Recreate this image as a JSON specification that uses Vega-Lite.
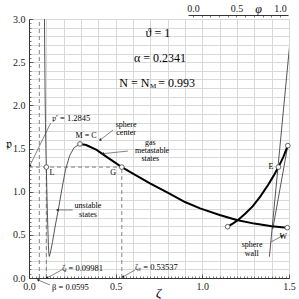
{
  "$schema": "https://vega.github.io/schema/vega-lite/v6.json",
  "width": 260,
  "height": 259,
  "autosize": "none",
  "padding": {"left": 29, "top": 19, "right": 10, "bottom": 21},
  "config": {
    "view": {"stroke": null},
    "font": "Liberation Serif",
    "axis": {
      "labelFont": "Liberation Serif",
      "labelFontSize": 10,
      "labelColor": "#222",
      "labelOverlap": false,
      "titleFont": "Liberation Serif",
      "titleFontWeight": "normal",
      "titleColor": "#000",
      "domainColor": "#333",
      "tickColor": "#444",
      "gridColor": "#d9d9d9",
      "gridWidth": 1
    }
  },
  "datasets": {
    "curves": [
      {"s": "iso", "i": 1, "zeta": 0.0888, "p": 3.1},
      {"s": "iso", "i": 2, "zeta": 0.0905, "p": 2.7},
      {"s": "iso", "i": 3, "zeta": 0.0925, "p": 2.2},
      {"s": "iso", "i": 4, "zeta": 0.095, "p": 1.8},
      {"s": "iso", "i": 5, "zeta": 0.0975, "p": 1.5},
      {"s": "iso", "i": 6, "zeta": 0.0998, "p": 1.2845},
      {"s": "iso", "i": 7, "zeta": 0.1025, "p": 1.05},
      {"s": "iso", "i": 8, "zeta": 0.1055, "p": 0.8},
      {"s": "iso", "i": 9, "zeta": 0.109, "p": 0.56},
      {"s": "iso", "i": 10, "zeta": 0.112, "p": 0.38},
      {"s": "iso", "i": 11, "zeta": 0.1145, "p": 0.28},
      {"s": "iso", "i": 12, "zeta": 0.117, "p": 0.25},
      {"s": "iso", "i": 13, "zeta": 0.1205, "p": 0.27},
      {"s": "iso", "i": 14, "zeta": 0.126, "p": 0.32},
      {"s": "iso", "i": 15, "zeta": 0.135, "p": 0.41},
      {"s": "iso", "i": 16, "zeta": 0.150, "p": 0.59},
      {"s": "iso", "i": 17, "zeta": 0.169, "p": 0.79},
      {"s": "iso", "i": 18, "zeta": 0.189, "p": 1.02},
      {"s": "iso", "i": 19, "zeta": 0.21, "p": 1.25},
      {"s": "iso", "i": 20, "zeta": 0.235, "p": 1.42},
      {"s": "iso", "i": 21, "zeta": 0.26, "p": 1.51},
      {"s": "iso", "i": 22, "zeta": 0.294, "p": 1.553},
      {"s": "gas", "i": 1, "zeta": 0.294, "p": 1.553},
      {"s": "gas", "i": 2, "zeta": 0.33, "p": 1.54},
      {"s": "gas", "i": 3, "zeta": 0.39, "p": 1.483},
      {"s": "gas", "i": 4, "zeta": 0.45, "p": 1.40},
      {"s": "gas", "i": 5, "zeta": 0.53537, "p": 1.2845},
      {"s": "gas", "i": 6, "zeta": 0.60, "p": 1.21},
      {"s": "gas", "i": 7, "zeta": 0.698, "p": 1.097},
      {"s": "gas", "i": 8, "zeta": 0.80, "p": 0.99},
      {"s": "gas", "i": 9, "zeta": 0.90, "p": 0.88},
      {"s": "gas", "i": 10, "zeta": 0.987, "p": 0.807},
      {"s": "gas", "i": 11, "zeta": 1.10, "p": 0.73},
      {"s": "gas", "i": 12, "zeta": 1.198, "p": 0.672},
      {"s": "gas", "i": 13, "zeta": 1.30, "p": 0.63},
      {"s": "gas", "i": 14, "zeta": 1.40, "p": 0.60},
      {"s": "gas", "i": 15, "zeta": 1.49, "p": 0.583},
      {"s": "wall", "i": 1, "zeta": 1.146, "p": 0.594},
      {"s": "wall", "i": 2, "zeta": 1.18, "p": 0.635},
      {"s": "wall", "i": 3, "zeta": 1.208, "p": 0.675},
      {"s": "wall", "i": 4, "zeta": 1.25, "p": 0.75},
      {"s": "wall", "i": 5, "zeta": 1.29, "p": 0.83},
      {"s": "wall", "i": 6, "zeta": 1.333, "p": 0.94},
      {"s": "wall", "i": 7, "zeta": 1.38, "p": 1.08},
      {"s": "wall", "i": 8, "zeta": 1.41, "p": 1.18},
      {"s": "wall", "i": 9, "zeta": 1.439, "p": 1.2845},
      {"s": "wall", "i": 10, "zeta": 1.467, "p": 1.40},
      {"s": "wall", "i": 11, "zeta": 1.493, "p": 1.533},
      {"s": "lineA", "i": 1, "zeta": 1.51, "p": 2.83},
      {"s": "lineA", "i": 2, "zeta": 1.387, "p": 0.247},
      {"s": "lineB", "i": 1, "zeta": 1.493, "p": 1.533},
      {"s": "lineB", "i": 2, "zeta": 1.406, "p": 0.565}
    ],
    "dots": [
      {"zeta": 0.294, "p": 1.553},
      {"zeta": 0.0998, "p": 1.2845},
      {"zeta": 0.53537, "p": 1.2845},
      {"zeta": 1.439, "p": 1.2845},
      {"zeta": 1.49, "p": 0.583},
      {"zeta": 1.146, "p": 0.594},
      {"zeta": 1.493, "p": 1.533}
    ],
    "dashed": [
      {"zeta": 0.0595, "p": 0, "zeta2": 0.0595, "p2": 3.0},
      {"zeta": 0.09981, "p": 0, "zeta2": 0.09981, "p2": 1.2845},
      {"zeta": 0.0, "p": 1.2845, "zeta2": 0.53537, "p2": 1.2845},
      {"zeta": 0.53537, "p": 0, "zeta2": 0.53537, "p2": 1.2845}
    ],
    "leaders": [
      {"zeta": 0.125, "p": 1.795, "zeta2": 0.004, "p2": 1.297},
      {"zeta": 0.485, "p": 1.714, "zeta2": 0.41, "p2": 1.598},
      {"zeta": 0.57, "p": 1.47, "zeta2": 0.425, "p2": 1.44},
      {"zeta": 0.252, "p": 0.788, "zeta2": 0.163, "p2": 0.788},
      {"zeta": 0.189, "p": 0.093, "zeta2": 0.102, "p2": 0.0},
      {"zeta": 0.121, "p": -0.081, "zeta2": 0.052, "p2": -0.023},
      {"zeta": 0.612, "p": 0.093, "zeta2": 0.541, "p2": 0.012},
      {"zeta": 1.396, "p": 0.417, "zeta2": 1.46, "p2": 0.487}
    ],
    "bigC": [
      {"zeta": 0.744, "p": 2.838, "t": "ϑ = 1"},
      {"zeta": 0.756, "p": 2.548, "t": "α = 0.2341"}
    ],
    "bigR": [
      {"zeta": 0.695, "p": 2.259, "t": "N = N"}
    ],
    "bigL": [
      {"zeta": 0.745, "p": 2.259, "t": "= 0.993"}
    ],
    "sub": [
      {"zeta": 0.716, "p": 2.225, "t": "M"}
    ],
    "smallC": [
      {"zeta": 0.329, "p": 1.645, "t": "M = C"},
      {"zeta": 0.56, "p": 1.775, "t": "sphere"},
      {"zeta": 0.56, "p": 1.68, "t": "center"},
      {"zeta": 0.70, "p": 1.564, "t": "gas"},
      {"zeta": 0.71, "p": 1.471, "t": "metastable"},
      {"zeta": 0.70, "p": 1.378, "t": "states"},
      {"zeta": 0.133, "p": 1.216, "t": "L"},
      {"zeta": 0.485, "p": 1.216, "t": "G"},
      {"zeta": 0.34, "p": 0.83, "t": "unstable"},
      {"zeta": 0.34, "p": 0.73, "t": "states"},
      {"zeta": 1.396, "p": 1.286, "t": "E"},
      {"zeta": 1.467, "p": 0.475, "t": "W"},
      {"zeta": 1.287, "p": 0.38, "t": "sphere"},
      {"zeta": 1.285, "p": 0.28, "t": "wall"}
    ],
    "smallL": [
      {"zeta": 0.133, "p": 1.853, "t": "𝔭′ = 1.2845"},
      {"zeta": 0.19, "p": 0.116, "t": "ζₗ = 0.09981"},
      {"zeta": 0.133, "p": -0.104, "t": "β = 0.0595"},
      {"zeta": 0.612, "p": 0.127, "t": "ζᵥ = 0.53537"}
    ],
    "phi": [
      {"phi": 0}, {"phi": 1}
    ]
  },
  "layer": [
    {
      "data": {"name": "dashed"},
      "mark": {"type": "rule", "strokeDash": [4, 3], "color": "#666", "strokeWidth": 0.8},
      "encoding": {
        "x": {
          "field": "zeta", "type": "quantitative",
          "scale": {"domain": [0, 1.5], "nice": false, "zero": false},
          "axis": {
            "orient": "bottom",
            "values": [0,0.02,0.04,0.06,0.08,0.1,0.12,0.14,0.16,0.18,0.2,0.22,0.24,0.26,0.28,0.3,0.32,0.34,0.36,0.38,0.4,0.42,0.44,0.46,0.48,0.5,0.52,0.54,0.56,0.58,0.6,0.62,0.64,0.66,0.68,0.7,0.72,0.74,0.76,0.78,0.8,0.82,0.84,0.86,0.88,0.9,0.92,0.94,0.96,0.98,1.0,1.02,1.04,1.06,1.08,1.1,1.12,1.14,1.16,1.18,1.2,1.22,1.24,1.26,1.28,1.3,1.32,1.34,1.36,1.38,1.4,1.42,1.44,1.46,1.48,1.5],
            "labels": false,
            "domain": false,
            "gridOpacity": {"condition": {"test": "abs(datum.value*10 - round(datum.value*10)) < 0.001", "value": 1}, "value": 0},
            "tickSize": -2,
            "tickWidth": 0.7,
            "title": null
          }
        },
        "y": {
          "field": "p", "type": "quantitative",
          "scale": {"domain": [0, 3.0], "nice": false, "zero": false},
          "axis": {
            "orient": "left",
            "values": [0,0.05,0.1,0.15,0.2,0.25,0.3,0.35,0.4,0.45,0.5,0.55,0.6,0.65,0.7,0.75,0.8,0.85,0.9,0.95,1.0,1.05,1.1,1.15,1.2,1.25,1.3,1.35,1.4,1.45,1.5,1.55,1.6,1.65,1.7,1.75,1.8,1.85,1.9,1.95,2.0,2.05,2.1,2.15,2.2,2.25,2.3,2.35,2.4,2.45,2.5,2.55,2.6,2.65,2.7,2.75,2.8,2.85,2.9,2.95,3.0],
            "labels": false,
            "domain": false,
            "gridOpacity": {"condition": {"test": "abs(datum.value*10 - round(datum.value*10)) < 0.001", "value": 1}, "value": 0},
            "tickSize": -2,
            "tickWidth": 0.7,
            "title": null
          }
        },
        "x2": {"field": "zeta2"},
        "y2": {"field": "p2"}
      }
    },
    {
      "layer": [
        {
          "data": {"name": "curves"},
          "transform": [{"filter": "datum.s === 'iso' || datum.s === 'lineA' || datum.s === 'lineB'"}],
          "mark": {"type": "line", "color": "#444", "strokeWidth": 0.9, "clip": true},
          "encoding": {
            "x": {
              "field": "zeta", "type": "quantitative",
              "scale": {"domain": [0, 1.5], "nice": false, "zero": false},
              "axis": {
                "orient": "bottom",
                "values": [0, 0.5, 1.0, 1.5],
                "format": ".1f",
                "grid": false,
                "tickSize": -4,
                "tickWidth": 0.8,
                "labelPadding": 7,
                "labelFlush": false,
                "title": "ζ",
                "titleFontSize": 13,
                "titleFontStyle": "italic",
                "titleBaseline": "middle",
                "titleX": 129,
                "titleY": 14
              }
            },
            "y": {
              "field": "p", "type": "quantitative",
              "scale": {"domain": [0, 3.0], "nice": false, "zero": false},
              "axis": {
                "orient": "left",
                "values": [0, 0.5, 1.0, 1.5, 2.0, 2.5, 3.0],
                "format": ".1f",
                "grid": false,
                "tickSize": -4,
                "tickWidth": 0.8,
                "labelPadding": 8,
                "labelFlush": false,
                "title": "𝔭",
                "titleAngle": 0,
                "titleFontSize": 13,
                "titleBaseline": "middle",
                "titleX": -21,
                "titleY": 124
              }
            },
            "detail": {"field": "s"},
            "order": {"field": "i"}
          }
        },
        {
          "data": {"name": "curves"},
          "transform": [{"filter": "datum.s === 'gas' || datum.s === 'wall'"}],
          "mark": {"type": "line", "color": "#000", "strokeWidth": 2, "clip": true},
          "encoding": {
            "x": {"field": "zeta", "type": "quantitative"},
            "y": {"field": "p", "type": "quantitative"},
            "detail": {"field": "s"},
            "order": {"field": "i"}
          }
        },
        {
          "data": {"name": "leaders"},
          "mark": {"type": "rule", "color": "#333", "strokeWidth": 0.6},
          "encoding": {
            "x": {"field": "zeta", "type": "quantitative"},
            "y": {"field": "p", "type": "quantitative"},
            "x2": {"field": "zeta2"},
            "y2": {"field": "p2"}
          }
        },
        {
          "data": {"name": "leaders"},
          "transform": [
            {"calculate": "atan2((datum.zeta2 - datum.zeta) * 173.33, (datum.p2 - datum.p) * 86.33) * 180 / PI", "as": "ang"}
          ],
          "mark": {"type": "point", "shape": "triangle-up", "size": 9, "filled": true, "color": "#222", "opacity": 1},
          "encoding": {
            "x": {"field": "zeta2", "type": "quantitative"},
            "y": {"field": "p2", "type": "quantitative"},
            "angle": {"field": "ang", "type": "quantitative", "scale": null}
          }
        },
        {
          "data": {"name": "dots"},
          "mark": {"type": "point", "shape": "circle", "size": 22, "filled": true, "fill": "white", "stroke": "#555", "strokeWidth": 0.9, "opacity": 1},
          "encoding": {
            "x": {"field": "zeta", "type": "quantitative"},
            "y": {"field": "p", "type": "quantitative"}
          }
        },
        {
          "data": {"name": "bigC"},
          "mark": {"type": "text", "fontSize": 12, "font": "Liberation Serif", "baseline": "middle", "align": "center", "color": "#000"},
          "encoding": {
            "x": {"field": "zeta", "type": "quantitative"},
            "y": {"field": "p", "type": "quantitative"},
            "text": {"field": "t"}
          }
        },
        {
          "data": {"name": "bigR"},
          "mark": {"type": "text", "fontSize": 12, "font": "Liberation Serif", "baseline": "middle", "align": "right", "color": "#000"},
          "encoding": {
            "x": {"field": "zeta", "type": "quantitative"},
            "y": {"field": "p", "type": "quantitative"},
            "text": {"field": "t"}
          }
        },
        {
          "data": {"name": "bigL"},
          "mark": {"type": "text", "fontSize": 12, "font": "Liberation Serif", "baseline": "middle", "align": "left", "color": "#000"},
          "encoding": {
            "x": {"field": "zeta", "type": "quantitative"},
            "y": {"field": "p", "type": "quantitative"},
            "text": {"field": "t"}
          }
        },
        {
          "data": {"name": "sub"},
          "mark": {"type": "text", "fontSize": 7, "font": "Liberation Serif", "baseline": "middle", "align": "center", "color": "#000"},
          "encoding": {
            "x": {"field": "zeta", "type": "quantitative"},
            "y": {"field": "p", "type": "quantitative"},
            "text": {"field": "t"}
          }
        },
        {
          "data": {"name": "smallC"},
          "mark": {"type": "text", "fontSize": 8, "font": "Liberation Serif", "baseline": "middle", "align": "center", "color": "#000"},
          "encoding": {
            "x": {"field": "zeta", "type": "quantitative"},
            "y": {"field": "p", "type": "quantitative"},
            "text": {"field": "t"}
          }
        },
        {
          "data": {"name": "smallL"},
          "mark": {"type": "text", "fontSize": 8.5, "font": "Liberation Serif", "baseline": "middle", "align": "left", "color": "#000"},
          "encoding": {
            "x": {"field": "zeta", "type": "quantitative"},
            "y": {"field": "p", "type": "quantitative"},
            "text": {"field": "t"}
          }
        }
      ]
    },
    {
      "data": {"name": "phi"},
      "mark": {"type": "point", "opacity": 0},
      "encoding": {
        "x": {
          "field": "phi", "type": "quantitative",
          "scale": {"domain": [-0.0575, 1.092], "range": [159, 259], "nice": false, "zero": false},
          "axis": {
            "orient": "top",
            "offset": 4,
            "values": [0,0.1,0.2,0.3,0.4,0.5,0.6,0.7,0.8,0.9,1.0],
            "labelExpr": "(datum.value == 0 || datum.value == 0.5 || datum.value == 1) ? format(datum.value, '.1f') : ''",
            "grid": false,
            "tickSize": -2,
            "tickWidth": 0.7,
            "labelPadding": 4,
            "labelFlush": false,
            "labelOverlap": false,
            "title": "φ",
            "titleFontSize": 12,
            "titleFontStyle": "italic",
            "titleBaseline": "middle",
            "titleX": 229,
            "titleY": -7
          }
        }
      }
    }
  ],
  "resolve": {"scale": {"x": "independent", "y": "independent"}}
}
